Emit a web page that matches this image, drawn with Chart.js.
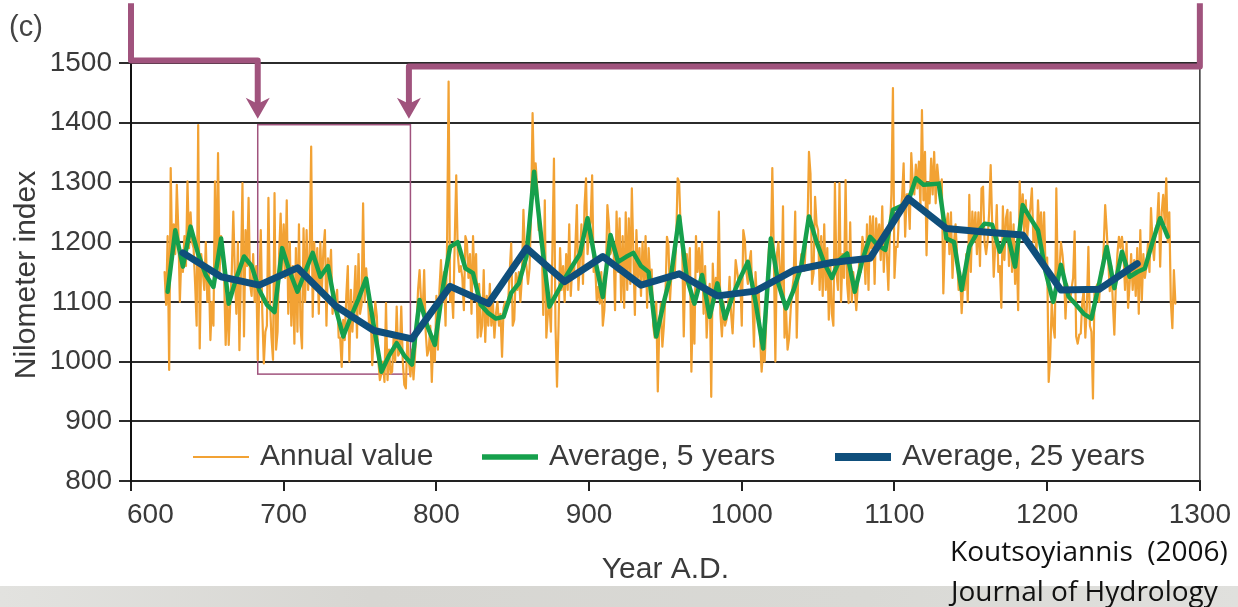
<!DOCTYPE html>
<html>
<head>
<meta charset="utf-8">
<script src="https://cdn.jsdelivr.net/npm/chart.js@4.4.1/dist/chart.umd.min.js"></script>
<style>
  html, body { margin: 0; padding: 0; background: #fff; }
  #wrap { position: relative; width: 1238px; height: 607px; }
</style>
</head>
<body>
<div id="wrap"><canvas id="chart"></canvas></div>
<script>
// Nilometer index, Roda gauge, annual values from 622 A.D.
const annualStartYear = 622;
const annualValues = [
  1150, 1095, 1210, 986, 1324, 1170, 1230, 1180,                   // 622-629
  1296, 1220, 1100, 1180, 1150, 1210, 1160, 1302, 1190, 1250,      // 630s
  1200, 1190, 1130, 1060, 1396, 1022, 1180, 1150, 1120, 1200,      // 640s
  1100, 1150, 1036, 1100, 1060, 1302, 1140, 1349, 1150, 1210,      // 650s
  1180, 1140, 1028, 1120, 1028, 1100, 1150, 1251, 1150, 1080,      // 660s
  1200, 1019, 1150, 1299, 1042, 1220, 1160, 1274, 1130, 1110,      // 670s
  1180, 1100, 1160, 1003, 1120, 1220, 1080, 997, 1050, 1060,       // 680s
  1274, 1100, 1040, 1003, 1282, 1020, 1050, 1180, 1248, 1150,      // 690s
  1230, 1140, 1270, 1080, 1200, 1060, 1160, 1030, 1190, 1050,      // 700s
  1230, 1060, 1022, 1223, 1100, 1220, 1120, 1180, 1360, 1075,      // 710s
  1200, 1130, 1190, 1080, 1200, 1120, 1187, 1220, 1060, 1173,      // 720s
  1140, 1187, 1080, 1117, 1090, 1120, 1040, 1040, 991, 1070,       // 730s
  1036, 1110, 1160, 1000, 1120, 1050, 1100, 1160, 1040, 1180,      // 740s
  1080, 1095, 1265, 1100, 1156, 1120, 1055, 1080, 994, 1050,       // 750s
  1100, 1076, 1000, 969, 980, 1000, 966, 1098, 969, 1020,          // 760s
  980, 983, 1040, 1000, 1092, 1010, 1015, 1092, 1000, 961,         // 770s
  955, 1042, 1000, 975, 1020, 970, 1010, 1060, 1120, 1153,         // 780s
  1100, 1082, 1153, 1050, 1010, 1020, 1060, 966, 1042, 1000,       // 790s
  1110, 1020, 1120, 1170, 1100, 1150, 1060, 1198, 1469, 1100,      // 800s
  1120, 1073, 1200, 1312, 1180, 1150, 1160, 1140, 1086, 1210,      // 810s
  1200, 1140, 1180, 1080, 1210, 1130, 1180, 1040, 1130, 1042,      // 820s
  1060, 1153, 1033, 1110, 1060, 1130, 1060, 1100, 1040, 1080,      // 830s
  1100, 1060, 1080, 1008, 1090, 1100, 1097, 1100, 1150, 1198,      // 840s
  1060, 1070, 1148, 1120, 1150, 1100, 1140, 1254, 1180, 1160,      // 850s
  1130, 1156, 1250, 1416, 1300, 1332, 1292, 1220, 1230, 1200,      // 860s
  1078, 1270, 1040, 1080, 1100, 1050, 1190, 1340, 1060, 958,       // 870s
  1060, 1190, 1120, 1160, 1100, 1180, 1120, 1230, 1110, 1160,      // 880s
  1140, 1190, 1262, 1120, 1170, 1230, 1130, 1260, 1307, 1180,      // 890s
  1220, 1233, 1312, 1150, 1160, 1103, 1125, 1097, 1150, 1060,      // 900s
  1086, 1147, 1262, 1230, 1180, 1190, 1198, 1086, 1251, 1150,      // 910s
  1240, 1100, 1210, 1090, 1250, 1120, 1240, 1130, 1290, 1180,      // 920s
  1078, 1220, 1140, 1190, 1110, 1200, 1130, 1210, 1090, 1190,      // 930s
  1140, 1154, 1060, 1040, 1100, 950, 1060, 1097, 1025, 1060,       // 940s
  1110, 1209, 1195, 1103, 1150, 1160, 1140, 1200, 1307, 1300,      // 950s
  1220, 1188, 1042, 1160, 1180, 1130, 1190, 983, 1100, 1030,       // 960s
  1210, 1150, 1190, 1130, 1200, 1080, 1160, 1040, 1100, 1130,      // 970s
  941, 1164, 1100, 1140, 1110, 1251, 1080, 1042, 1100, 1060,       // 980s
  1070, 1088, 1142, 1080, 1047, 1110, 1170, 1150, 1130, 1140,      // 990s
  1060, 1220, 1204, 1150, 1130, 1167, 1185, 1100, 1025, 1150,      // 1000s
  1100, 1125, 1040, 983, 1020, 1000, 1067, 1150, 1200, 1180,       // 1010s
  1324, 1176, 1000, 1180, 1200, 1150, 1120, 1260, 1040, 1086,      // 1020s
  1020, 1039, 1086, 1120, 1140, 1251, 1040, 1148, 1150, 1180,      // 1030s
  1170, 1152, 1200, 1220, 1351, 1315, 1130, 1148, 1276, 1230,      // 1040s
  1220, 1120, 1210, 1110, 1230, 1120, 1190, 1070, 1160, 1080,      // 1050s
  1060, 1299, 1150, 1120, 1299, 1100, 1180, 1140, 1304, 1130,      // 1060s
  1098, 1233, 1100, 1150, 1120, 1086, 1130, 1170, 1150, 1209,      // 1070s
  1190, 1130, 1230, 1120, 1243, 1190, 1243, 1130, 1240, 1190,      // 1080s
  1230, 1170, 1260, 1150, 1220, 1180, 1120, 1220, 1280, 1458,      // 1090s
  1140, 1192, 1192, 1250, 1250, 1276, 1332, 1209, 1280, 1280,      // 1100s
  1222, 1349, 1300, 1280, 1330, 1290, 1335, 1260, 1421, 1270,      // 1110s
  1351, 1178, 1300, 1265, 1340, 1280, 1351, 1265, 1330, 1300,      // 1120s
  1290, 1305, 1114, 1200, 1230, 1248, 1180, 1250, 1140, 1200,      // 1130s
  1230, 1180, 1120, 1150, 1081, 1130, 1120, 1180, 1100, 1279,      // 1140s
  1150, 1251, 1200, 1250, 1180, 1250, 1160, 1290, 1293, 1200,      // 1150s
  1180, 1202, 1250, 1329, 1230, 1142, 1195, 1262, 1150, 1160,      // 1160s
  1090, 1260, 1170, 1240, 1254, 1160, 1250, 1150, 1230, 1130,      // 1170s
  1200, 1086, 1302, 1230, 1280, 1210, 1270, 1210, 1240, 1257,      // 1180s
  1290, 1200, 1230, 1180, 1270, 1210, 1250, 1170, 1250, 1150,      // 1190s
  1174, 966, 1008, 1100, 1060, 1040, 1290, 1128, 1150, 1200,       // 1200s
  1180, 1152, 1072, 1130, 1120, 1100, 1123, 1140, 1218, 1042,      // 1210s
  1030, 1045, 1047, 1100, 1120, 1040, 1092, 1192, 1060, 1050,      // 1220s
  938, 1120, 1125, 1130, 1100, 1150, 1145, 1190, 1262, 1220,       // 1230s
  1170, 1118, 1160, 1100, 1045, 1130, 1180, 1209, 1190, 1209,      // 1240s
  1180, 1120, 1200, 1090, 1130, 1180, 1120, 1170, 1110, 1190,      // 1250s
  1080, 1220, 1103, 1180, 1140, 1160, 1197, 1150, 1257, 1200,      // 1260s
  1170, 1223, 1230, 1282, 1159, 1250, 1279, 1230, 1307, 1200,      // 1270s
  1250, 1100, 1056, 1153, 1097                                     // 1280-1284
];

// 5-year averages, centred on 624, 629, ...
const fiveYearFirstCentre = 624;
const fiveYearValues = [
  1117, 1220, 1159, 1226, 1180, 1145, 1125, 1206, 1097, 1140,
  1176, 1160, 1120, 1095, 1083, 1190, 1150, 1117, 1150, 1182,
  1142, 1160, 1090, 1042, 1075, 1105, 1139, 1060, 983, 1010,
  1031, 1010, 995, 1103, 1060, 1028, 1120, 1192, 1200, 1156,
  1148, 1095, 1081, 1072, 1075, 1115, 1131, 1176, 1318, 1200,
  1092, 1115, 1139, 1160, 1180, 1240, 1170, 1108, 1212, 1167,
  1175, 1182, 1160, 1150, 1042, 1100, 1150, 1243, 1140, 1097,
  1145, 1075, 1131, 1072, 1110, 1140, 1167, 1100, 1022, 1206,
  1130, 1089, 1120, 1160, 1243, 1200, 1165, 1140, 1170, 1181,
  1117, 1170, 1209, 1195, 1187, 1254, 1260, 1268, 1307, 1296,
  1297, 1298, 1206, 1200, 1120, 1192, 1215, 1231, 1229, 1184,
  1215, 1159, 1262, 1240, 1220, 1150, 1100, 1162, 1109, 1095,
  1080, 1072, 1130, 1192, 1123, 1184, 1142, 1150, 1156, 1200,
  1240, 1209
];

// 25-year averages, centred on 634, 659, ...
const quarterFirstCentre = 634;
const quarterValues = [
  1182, 1142, 1128, 1157, 1093, 1052, 1038, 1126, 1097, 1190,
  1134, 1176, 1128, 1147, 1110, 1118, 1153, 1166, 1173, 1273,
  1223, 1217, 1212, 1120, 1121, 1164
];

const yearRange = [600, 1300];
const indexRange = [800, 1500];
const tickStep = 100;

// annotation: the two period marks and the highlighted box
const periodYears = [683, 782];
const bracketLevels = [1504, 1494];
const bracketTop = 1600;
const boxYears = [683, 783];
const boxLevels = [979, 1400];

const FONT = '"Liberation Sans", Arial, sans-serif';
const TEXT = '#3a3a3a';
const PURPLE = '#a0537d';

function toPoints(values, start, step) {
  return values.map(function(v, i) { return { x: start + i * step, y: v }; });
}

const decorations = {
  id: 'decorations',
  beforeDraw(chart) {
    const ctx = chart.ctx;
    ctx.save();
    ctx.fillStyle = '#ffffff';
    ctx.fillRect(0, 0, chart.width, chart.height);
    const g = ctx.createLinearGradient(0, 0, chart.width, 0);
    g.addColorStop(0, '#e2e2df');
    g.addColorStop(0.3, '#d7d6d2');
    g.addColorStop(0.7, '#d9d9d5');
    g.addColorStop(1, '#e0e0dd');
    ctx.fillStyle = g;
    ctx.fillRect(0, 586, chart.width, chart.height - 586);
    ctx.restore();
  },
  beforeDatasetsDraw(chart) {
    const ctx = chart.ctx, xs = chart.scales.x, ys = chart.scales.y;
    ctx.save();
    ctx.strokeStyle = PURPLE;
    ctx.lineWidth = 1.5;
    const x0 = xs.getPixelForValue(boxYears[0]), x1 = xs.getPixelForValue(boxYears[1]);
    const y0 = ys.getPixelForValue(boxLevels[1]), y1 = ys.getPixelForValue(boxLevels[0]);
    ctx.strokeRect(x0, y0 + 2, x1 - x0, y1 - y0 - 2);
    ctx.restore();
  },
  afterDraw(chart) {
    const ctx = chart.ctx, xs = chart.scales.x, ys = chart.scales.y, a = chart.chartArea;
    ctx.save();

    // right frame
    ctx.strokeStyle = '#333';
    ctx.lineWidth = 1.5;
    ctx.beginPath();
    ctx.moveTo(a.right, a.top);
    ctx.lineTo(a.right, a.bottom);
    ctx.stroke();

    // first year label sits to the right of its tick in the original
    ctx.fillStyle = TEXT;
    ctx.font = '28px ' + FONT;
    ctx.textAlign = 'left';
    ctx.textBaseline = 'middle';
    ctx.fillText(String(yearRange[0]), xs.getPixelForValue(yearRange[0]) - 4, a.bottom + 34);

    // period brackets with arrows
    ctx.strokeStyle = PURPLE;
    ctx.fillStyle = PURPLE;
    ctx.lineWidth = 6;
    ctx.lineJoin = 'round';
    const tipY = ys.getPixelForValue(1400) - 4;
    const brackets = [
      { edge: yearRange[0], year: periodYears[0], level: bracketLevels[0] },
      { edge: yearRange[1], year: periodYears[1], level: bracketLevels[1] }
    ];
    brackets.forEach(function(b) {
      const ex = xs.getPixelForValue(b.edge), px = xs.getPixelForValue(b.year);
      const ly = ys.getPixelForValue(b.level);
      ctx.beginPath();
      ctx.moveTo(ex, ys.getPixelForValue(bracketTop));
      ctx.lineTo(ex, ly);
      ctx.lineTo(px, ly);
      ctx.lineTo(px, tipY - 12);
      ctx.stroke();
      ctx.beginPath();
      ctx.moveTo(px, tipY);
      ctx.lineTo(px - 12, tipY - 21);
      ctx.lineTo(px, tipY - 15);
      ctx.lineTo(px + 12, tipY - 21);
      ctx.closePath();
      ctx.fill();
    });

    // legend inside the plot
    const legendY = a.bottom - 24;
    const legendX = [a.left + 62, a.left + 351, a.left + 704];
    const legendOrder = [2, 1, 0];
    ctx.font = '30px ' + FONT;
    ctx.textBaseline = 'middle';
    ctx.textAlign = 'left';
    legendOrder.forEach(function(di, k) {
      const ds = chart.data.datasets[di];
      ctx.strokeStyle = ds.borderColor;
      ctx.lineWidth = ds.borderWidth + (di === 2 ? 0 : 1);
      ctx.lineCap = 'butt';
      ctx.beginPath();
      ctx.moveTo(legendX[k], legendY);
      ctx.lineTo(legendX[k] + 56, legendY);
      ctx.stroke();
      ctx.fillStyle = TEXT;
      ctx.fillText(ds.label, legendX[k] + 67, legendY);
    });

    // axis titles and captions
    ctx.fillStyle = TEXT;
    ctx.font = '30px ' + FONT;
    ctx.textAlign = 'center';
    ctx.fillText('Year A.D.', (a.left + a.right) / 2, 570);
    ctx.save();
    ctx.translate(27, (a.top + a.bottom) / 2 + 3);
    ctx.rotate(-Math.PI / 2);
    ctx.fillText('Nilometer index', 0, 0);
    ctx.restore();

    ctx.font = '29px ' + FONT;
    ctx.textAlign = 'left';
    ctx.fillStyle = '#444';
    ctx.fillText('(c)', 9, 28);

    ctx.fillStyle = '#111';
    ctx.font = '28px "Open Sans", sans-serif';
    ctx.fillText('Koutsoyiannis  (2006)', 950, 553, 285);
    ctx.fillText('Journal of Hydrology', 951, 593, 272);
    ctx.restore();
  }
};

new Chart(document.getElementById('chart'), {
  type: 'line',
  data: {
    datasets: [
      {
        label: 'Average, 25 years',
        data: toPoints(quarterValues, quarterFirstCentre, 25),
        borderColor: '#0f4f7c',
        borderWidth: 7,
        order: 1
      },
      {
        label: 'Average, 5 years',
        data: toPoints(fiveYearValues, fiveYearFirstCentre, 5),
        borderColor: '#16a04c',
        borderWidth: 4.5,
        order: 2
      },
      {
        label: 'Annual value',
        data: toPoints(annualValues, annualStartYear, 1),
        borderColor: '#f2a234',
        borderWidth: 2.2,
        order: 3
      }
    ]
  },
  options: {
    responsive: true,
    maintainAspectRatio: false,
    animation: false,
    devicePixelRatio: 1,
    layout: { padding: { top: 63, right: 36, left: 0, bottom: 0 } },
    elements: {
      point: { radius: 0, hoverRadius: 0 },
      line: { tension: 0, borderJoinStyle: 'round', borderCapStyle: 'round' }
    },
    plugins: {
      legend: { display: false },
      tooltip: { enabled: false }
    },
    scales: {
      x: {
        type: 'linear',
        min: yearRange[0],
        max: yearRange[1],
        afterFit: function(s) { s.height = 126; },
        ticks: {
          stepSize: tickStep,
          padding: 7,
          color: TEXT,
          font: { family: FONT, size: 28 },
          maxRotation: 0,
          callback: function(v) { return v === yearRange[0] ? '' : String(v); }
        },
        grid: { drawOnChartArea: false, drawTicks: true, tickLength: 10, color: '#222', lineWidth: 2 },
        border: { display: true, color: '#222', width: 2 }
      },
      y: {
        min: indexRange[0],
        max: indexRange[1],
        afterFit: function(s) { s.width = 131; },
        ticks: {
          stepSize: tickStep,
          padding: 7,
          color: TEXT,
          font: { family: FONT, size: 28 },
          callback: function(v) { return String(v); }
        },
        grid: { color: '#2b2b2b', lineWidth: 2, tickLength: 12 },
        border: { display: true, color: '#111', width: 2 }
      }
    }
  },
  plugins: [decorations]
});
</script>
</body>
</html>
